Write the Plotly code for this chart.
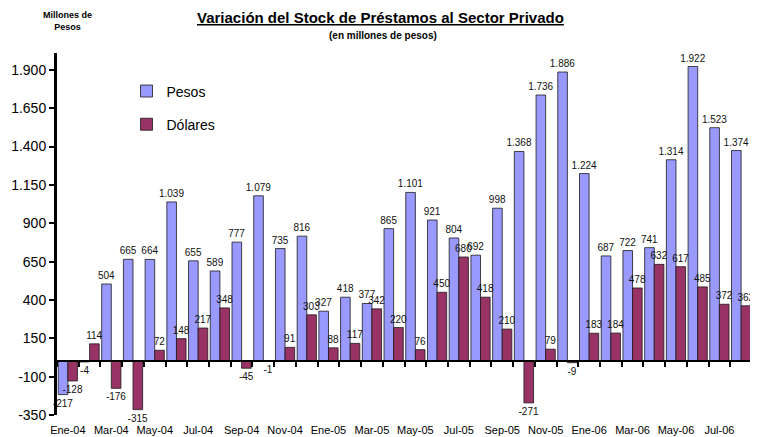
import plotly.graph_objects as go

months = ["Ene-04", "Feb-04", "Mar-04", "Abr-04", "May-04", "Jun-04", "Jul-04", "Ago-04",
          "Sep-04", "Oct-04", "Nov-04", "Dic-04", "Ene-05", "Feb-05", "Mar-05", "Abr-05",
          "May-05", "Jun-05", "Jul-05", "Ago-05", "Sep-05", "Oct-05", "Nov-05", "Dic-05",
          "Ene-06", "Feb-06", "Mar-06", "Abr-06", "May-06", "Jun-06", "Jul-06", "Ago-06"]
pesos = [-217, -4, 504, 665, 664, 1039, 655, 589, 777, 1079, 735, 816, 327, 418, 377, 865,
         1101, 921, 804, 692, 998, 1368, 1736, 1886, 1224, 687, 722, 741, 1314, 1922, 1523, 1374]
dolares = [-128, 114, -176, -315, 72, 148, 217, 348, -45, -1, 91, 303, 88, 117, 342, 220,
           76, 450, 680, 418, 210, -271, 79, -9, 183, 184, 478, 632, 617, 485, 372, 362]
y_ticks = [-350, -100, 150, 400, 650, 900, 1150, 1400, 1650, 1900]

Y_MIN, Y_MAX = -350, 2010
xs = list(range(len(months)))


def fmt(v):
    return f"{v:,}".replace(",", ".")


fig = go.Figure()
fig.add_trace(go.Bar(
    x=xs, y=pesos, name="Pesos", legendgroup="p",
    marker=dict(color="#9999FF", line=dict(color="#1a1a1a", width=0.8)),
    text=[fmt(v) for v in pesos], textposition="outside", textangle=0,
    constraintext="none", cliponaxis=False,
    textfont=dict(size=10, color="#111111", family="Liberation Sans, Arial"),
    hoverinfo="x+y",
))
fig.add_trace(go.Bar(
    x=xs, y=dolares, name="Dólares", legendgroup="d",
    marker=dict(color="#993366", line=dict(color="#1a1a1a", width=0.8)),
    text=[fmt(v) for v in dolares], textposition="outside", textangle=0,
    constraintext="none", cliponaxis=False,
    textfont=dict(size=10, color="#111111", family="Liberation Sans, Arial"),
    hoverinfo="x+y",
))
# invisible helper trace for the zero-line axis
fig.add_trace(go.Scatter(x=[0], y=[0], xaxis="x2", mode="markers",
                         marker=dict(opacity=0), showlegend=False, hoverinfo="skip"))

# page body has an 8px margin, so the figure is 8px smaller and offset
fig.update_layout(
    width=750, height=429,
    margin=dict(l=49, r=6, t=45, b=22, autoexpand=False),
    paper_bgcolor="white", plot_bgcolor="white",
    separators=",.",
    font=dict(family="Liberation Sans, Arial", color="black"),
    barmode="group", bargap=0.115, bargroupgap=0,
    showlegend=True,
    legend=dict(x=0.10, y=0.938, xanchor="left", yanchor="top",
                font=dict(size=14), traceorder="grouped", tracegroupgap=12,
                bgcolor="rgba(0,0,0,0)"),
    xaxis=dict(range=[-0.5, len(months) - 0.5], tickmode="array",
               tickvals=xs[::2], ticktext=months[::2], ticks="",
               showline=False, showgrid=False, zeroline=False, automargin=False,
               tickfont=dict(size=11), ticklabelstandoff=7),
    xaxis2=dict(overlaying="x", anchor="free",
                position=(0 - Y_MIN) / (Y_MAX - Y_MIN), automargin=False,
                range=[-0.5, len(months) - 0.5], tickmode="linear",
                tick0=-0.5, dtick=1, ticks="outside", ticklen=5, tickwidth=2,
                tickcolor="black", showticklabels=False, showline=True,
                linecolor="black", linewidth=2, showgrid=False, zeroline=False),
    yaxis=dict(range=[Y_MIN, Y_MAX], tickmode="array", tickvals=y_ticks,
               ticktext=[fmt(v) for v in y_ticks], automargin=False,
               ticks="outside", ticklen=5, tickwidth=2, tickcolor="black",
               showline=True, linecolor="black", linewidth=3,
               showgrid=False, zeroline=False, tickfont=dict(size=14)),
)

fig.add_annotation(text="<b><u>Variación del Stock de Préstamos al Sector Privado</u></b>",
                   xref="paper", yref="paper", x=0.466, y=1, yanchor="middle", yshift=36,
                   showarrow=False, font=dict(size=15))
fig.add_annotation(text="<b>(en millones de pesos)</b>",
                   xref="paper", yref="paper", x=0.469, y=1, yanchor="middle", yshift=18,
                   showarrow=False, font=dict(size=10))
fig.add_annotation(text="<b>Millones de<br>Pesos</b>",
                   xref="paper", yref="paper", x=-0.023, y=1, yanchor="middle", yshift=32,
                   showarrow=False, font=dict(size=9))

fig.write_html("out.html")
